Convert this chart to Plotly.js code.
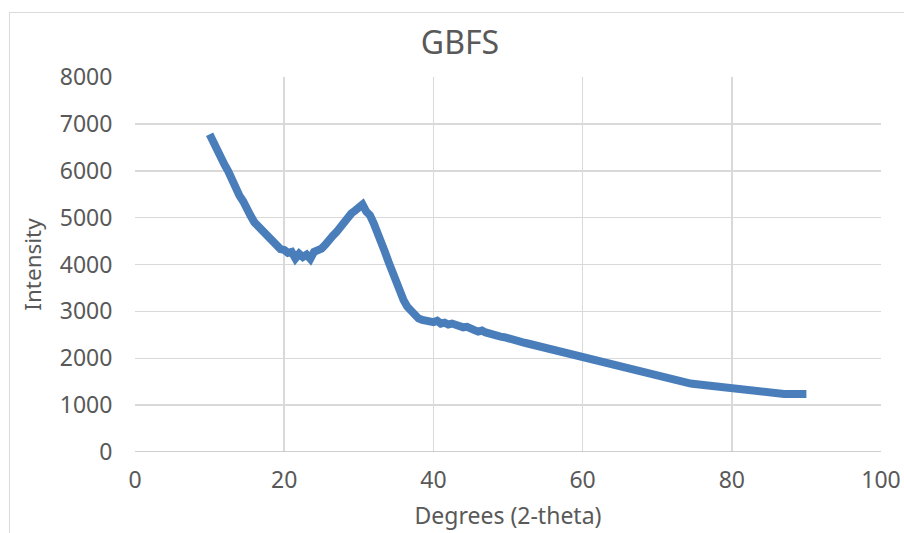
<!DOCTYPE html>
<html>
<head>
<meta charset="utf-8">
<script src="https://cdn.plot.ly/plotly-3.0.1.min.js"></script>
<style>
html,body{margin:0;padding:0;background:#fff;overflow:hidden;width:904px;height:533px;}
#frame{position:absolute;left:9px;top:12px;width:900px;height:540px;border:1px solid #d9d9d9;}
#chart{width:900px;height:540px;}
</style>
</head>
<body>
<div id="frame"><div id="chart"></div></div>
<script>
const chartTitle = "GBFS";
const xTitle = "Degrees (2-theta)";
const yTitle = "Intensity";

const degrees = [
10.0,10.5,11.0,11.5,12.0,12.5,13.0,13.5,14.0,14.5,15.0,15.5,16.0,16.5,17.0,17.5,18.0,18.5,19.0,19.5,
20.0,20.5,21.0,21.5,22.0,22.5,23.0,23.5,24.0,24.5,25.0,25.5,26.0,26.5,27.0,27.5,28.0,28.5,29.0,29.5,
30.0,30.5,31.0,31.5,32.0,32.5,33.0,33.5,34.0,34.5,35.0,35.5,36.0,36.5,37.0,37.5,38.0,38.5,39.0,39.5,
40.0,40.5,41.0,41.5,42.0,42.5,43.0,43.5,44.0,44.5,45.0,45.5,46.0,46.5,47.0,47.5,48.0,48.5,49.0,49.5,
50.0,50.5,51.0,51.5,52.0,52.5,53.0,53.5,54.0,54.5,55.0,55.5,56.0,56.5,57.0,57.5,58.0,58.5,59.0,59.5,
60.0,60.5,61.0,61.5,62.0,62.5,63.0,63.5,64.0,64.5,65.0,65.5,66.0,66.5,67.0,67.5,68.0,68.5,69.0,69.5,
70.0,70.5,71.0,71.5,72.0,72.5,73.0,73.5,74.0,74.5,75.0,75.5,76.0,76.5,77.0,77.5,78.0,78.5,79.0,79.5,
80.0,80.5,81.0,81.5,82.0,82.5,83.0,83.5,84.0,84.5,85.0,85.5,86.0,86.5,87.0,87.5,88.0,88.5,89.0,89.5,
90.0
];

const intensity = [
6780,6600,6450,6330,6130,5990,5800,5690,5470,5350,5150,5040,4900,4820,4680,4620,4520,4440,4390,4330,
4310,4250,4270,4130,4230,4160,4210,4120,4270,4300,4340,4420,4490,4610,4690,4800,4900,5000,5090,5150,
5210,5280,5130,5050,4880,4700,4500,4270,4050,3820,3600,3410,3240,3100,3000,2920,2850,2820,2800,2780,
2770,2800,2740,2760,2720,2740,2700,2690,2660,2670,2610,2600,2570,2590,2550,2520,2510,2490,2460,2450,
2420,2400,2380,2370,2340,2320,2300,2260,2250,2230,2210,2180,2170,2150,2130,2110,2100,2070,2050,2040,
2020,2000,1970,1960,1940,1930,1900,1880,1860,1840,1810,1790,1770,1750,1730,1710,1690,1670,1640,1630,
1600,1590,1570,1560,1540,1520,1500,1490,1470,1460,1450,1440,1430,1410,1400,1390,1390,1370,1360,1350,
1340,1340,1320,1320,1310,1300,1290,1280,1280,1270,1260,1260,1250,1250,1240,1240,1240,1230,1240,1230,
1240
];

const xTicks = [0,20,40,60,80,100];
const yTicks = [0,1000,2000,3000,4000,5000,6000,7000,8000];

const FONT = '"Noto Sans", "Open Sans", sans-serif';
const TXT = '#595959';

Plotly.newPlot('chart', [{
  x: degrees, y: intensity, type: 'scatter', mode: 'lines',
  line: {color: '#4a7ebb', width: 8},
  hoverinfo: 'skip'
}], {
  width: 900, height: 540,
  margin: {l: 125, r: 29, t: 64, b: 101},
  paper_bgcolor: '#fff', plot_bgcolor: '#fff',
  showlegend: false,
  title: {text: chartTitle, font: {family: FONT, size: 32, color: TXT}, x: 0.5, xanchor: 'center', y: 0.945, yanchor: 'middle'},
  xaxis: {
    range: [0, 100], tickvals: xTicks, ticktext: xTicks.map(String),
    showgrid: true, gridcolor: '#d9d9d9', gridwidth: 1.5,
    zeroline: false, showline: false,
    ticks: 'outside', ticklen: 7, tickcolor: 'rgba(0,0,0,0)',
    tickfont: {family: FONT, size: 23, color: TXT},
    title: {text: xTitle, font: {family: FONT, size: 23, color: TXT}, standoff: 14},
    fixedrange: true
  },
  yaxis: {
    range: [0, 8000], tickvals: yTicks, ticktext: yTicks.map(String),
    showgrid: true, gridcolor: '#d9d9d9', gridwidth: 1.5,
    zeroline: false, showline: false,
    ticks: 'outside', ticklen: 17, tickcolor: 'rgba(0,0,0,0)',
    tickfont: {family: FONT, size: 23, color: TXT},
    title: {text: yTitle, font: {family: FONT, size: 22.5, color: TXT}, standoff: 11},
    fixedrange: true
  },
  shapes: [{type: 'line', xref: 'paper', yref: 'y', x0: 0, x1: 1, y0: 0, y1: 0, line: {color: '#bfbfbf', width: 1.5}}]
}, {displayModeBar: false, staticPlot: true});
</script>
</body>
</html>
